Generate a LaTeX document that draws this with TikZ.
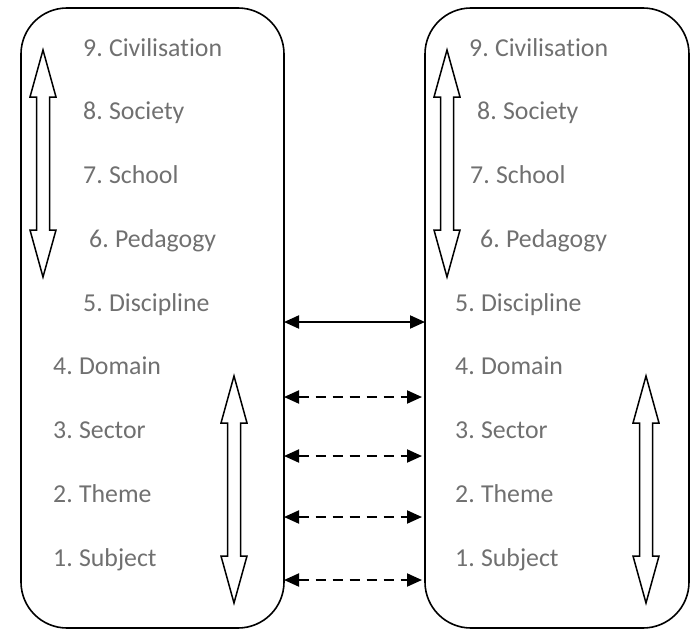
\documentclass[tikz,border=0pt]{standalone}
\usepackage{fontspec}
\setmainfont{Carlito}[Ligatures=CommonOff, WordSpace=0.75]
\usetikzlibrary{arrows.meta}
\definecolor{lvltext}{HTML}{707070}
\tikzset{
  x=1pt, y=-1pt,
  panel/.style={draw=black, line width=1.6pt, rounded corners=46pt},
  lvl/.style={anchor=base west, inner sep=0pt, text=lvltext,
              font=\fontsize{25.8}{30}\selectfont},
  link/.style={line width=2pt, {Triangle[length=15pt,width=13pt]}-{Triangle[length=15pt,width=13pt]}},
  weaklink/.style={link, dash pattern=on 10pt off 7pt, shorten >=3pt},
  hollow/.style={draw=black, line width=1.5pt, fill=white, line join=miter}
}
% vertical hollow double arrow: centre x, top tip y, bottom tip y
\newcommand{\rangearrow}[3]{%
  \draw[hollow] (#1,#2) -- (#1+13,#2+47) -- (#1+6.5,#2+47) -- (#1+6.5,#3-47)
    -- (#1+13,#3-47) -- (#1,#3) -- (#1-13,#3-47) -- (#1-6.5,#3-47)
    -- (#1-6.5,#2+47) -- (#1-13,#2+47) -- cycle;}
\begin{document}
\begin{tikzpicture}
\useasboundingbox (0,0) rectangle (693,629);

% the two panels
\draw[panel] (21,8) rectangle (284,628);
\draw[panel] (425,8) rectangle (689,628);
\coordinate (Le) at (284,0);
\coordinate (Rw) at (425,0);

% left column of levels
\node[lvl] (l9) at (83,56)     {9. Civilisation};
\node[lvl] (l8) at (83,119.75) {8. Society};
\node[lvl] (l7) at (83,183.5)  {7. School};
\node[lvl] (l6) at (89,247.25) {6. Pedagogy};
\node[lvl] (l5) at (83,311)    {5. Discipline};
\node[lvl] (l4) at (53,374.75) {4. Domain};
\node[lvl] (l3) at (53,438.5)  {3. Sector};
\node[lvl] (l2) at (53,502.25) {2. Theme};
\node[lvl] (l1) at (53,566)    {1. Subject};

% right column of levels
\node[lvl] (r9) at (469,56)     {9. Civilisation};
\node[lvl] (r8) at (477,119.75) {8. Society};
\node[lvl] (r7) at (470,183.5)  {7. School};
\node[lvl] (r6) at (480,247.25) {6. Pedagogy};
\node[lvl] (r5) at (455,311)    {5. Discipline};
\node[lvl] (r4) at (455,374.75) {4. Domain};
\node[lvl] (r3) at (455,438.5)  {3. Sector};
\node[lvl] (r2) at (455,502.25) {2. Theme};
\node[lvl] (r1) at (455,566)    {1. Subject};

% range arrows inside the panels
\rangearrow{43}{50}{277}
\rangearrow{234}{376}{603}
\rangearrow{447}{50}{277}
\rangearrow{646}{376}{603}

% links between the panels
\coordinate (h5) at (0,322);
\coordinate (h4) at (0,397);
\coordinate (h3) at (0,456);
\coordinate (h2) at (0,517);
\coordinate (h1) at (0,580);
\draw[link] (Le |- h5) -- (Rw |- h5);
\draw[weaklink] (Le |- h4) -- (Rw |- h4);
\draw[weaklink] (Le |- h3) -- (Rw |- h3);
\draw[weaklink] (Le |- h2) -- (Rw |- h2);
\draw[weaklink] (Le |- h1) -- (Rw |- h1);
\end{tikzpicture}
\end{document}
